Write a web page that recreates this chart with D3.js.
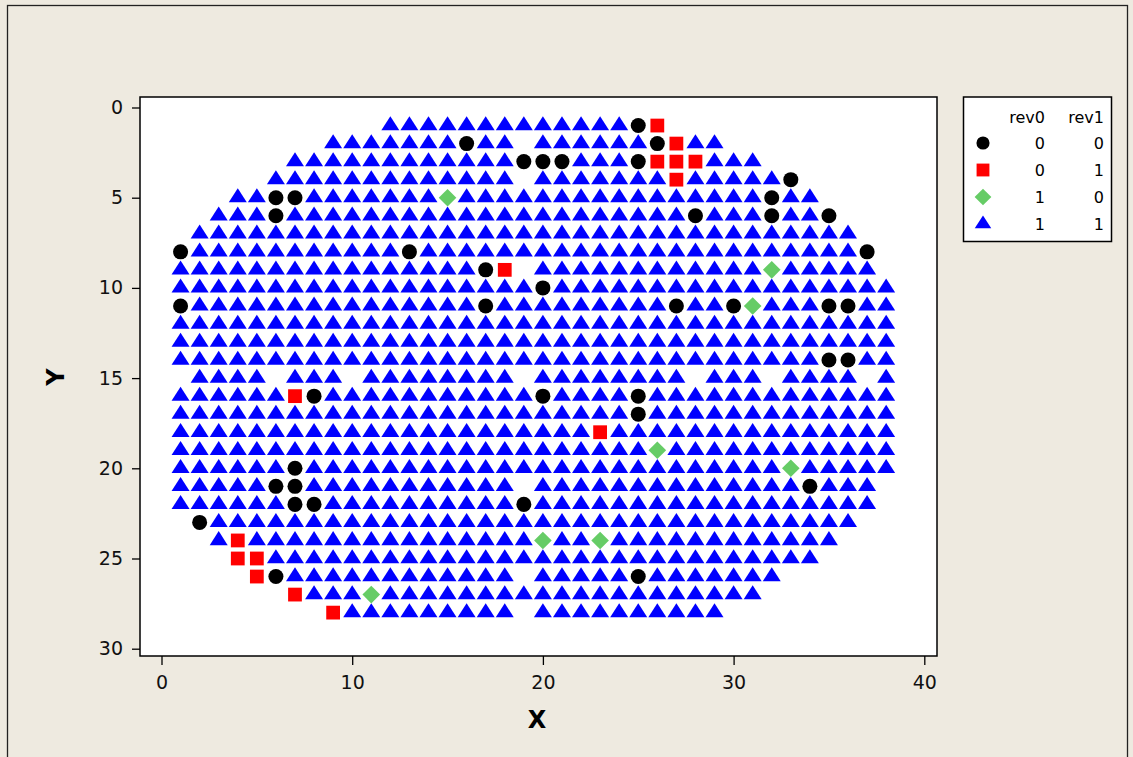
<!DOCTYPE html>
<html>
<head>
<meta charset="utf-8">
<script src="https://cdn.jsdelivr.net/npm/d3@7"></script>
<style>
  body { margin: 0; background: #eeeae0; }
  svg { display: block; font-family: "DejaVu Sans", sans-serif; }
</style>
</head>
<body>
<svg id="chart" width="1133" height="757"></svg>
<script>
// wafer rows (y) with the first and last die column (x)
const rowY     = [1, 2, 3, 4, 5, 6, 7, 8, 9, 10, 11, 12, 13, 14, 15, 16, 17, 18, 19, 20, 21, 22, 23, 24, 25, 26, 27, 28];
const rowStart = [12, 9, 7, 6, 4, 3, 2, 1, 1, 1, 1, 1, 1, 1, 2, 1, 1, 1, 1, 1, 1, 1, 2, 3, 4, 5, 7, 9];
const rowEnd   = [26, 29, 31, 33, 34, 35, 36, 37, 37, 38, 38, 38, 38, 38, 38, 38, 38, 38, 38, 38, 37, 37, 36, 35, 34, 32, 31, 29];

// empty sites (no die drawn)
const gaps = [[19, 2], [19, 4], [19, 9], [6, 15], [10, 15], [19, 15], [28, 15], [32, 15], [37, 15], [19, 21], [19, 26], [19, 28]];

// rev0 = 0, rev1 = 0
const circles = [[25, 1], [16, 2], [26, 2], [19, 3], [20, 3], [21, 3], [25, 3], [33, 4], [6, 5], [7, 5], [32, 5],
  [6, 6], [28, 6], [32, 6], [35, 6], [1, 8], [13, 8], [37, 8], [17, 9], [20, 10], [1, 11], [17, 11], [27, 11],
  [30, 11], [35, 11], [36, 11], [35, 14], [36, 14], [8, 16], [20, 16], [25, 16], [25, 17], [7, 20], [6, 21],
  [7, 21], [34, 21], [7, 22], [8, 22], [19, 22], [2, 23], [6, 26], [25, 26]];
// rev0 = 0, rev1 = 1
const squares = [[26, 1], [27, 2], [26, 3], [27, 3], [28, 3], [27, 4], [18, 9], [7, 16], [23, 18], [4, 24], [4, 25],
  [5, 25], [5, 26], [7, 27], [9, 28]];
// rev0 = 1, rev1 = 0
const diamonds = [[15, 5], [32, 9], [31, 11], [26, 19], [33, 20], [20, 24], [23, 24], [11, 27]];

// legend table
const legendKeys = ["circle", "square", "diamond", "triangle"];
const legendRev0 = [0, 0, 1, 1];
const legendRev1 = [0, 1, 0, 1];

const xTicks = [0, 10, 20, 30, 40];
const yTicks = [0, 5, 10, 15, 20, 25, 30];

const colors = { circle: "#000000", square: "#ff0000", diamond: "#66cc66", triangle: "#0000ff" };

const svg = d3.select("#chart");

// outer graph frame
svg.append("rect")
  .attr("x", 7.5).attr("y", 5.5)
  .attr("width", 1120).attr("height", 770)
  .attr("fill", "#eeeae0")
  .attr("stroke", "#222").attr("stroke-width", 1.3);

const x = d3.scaleLinear().domain([0, 40]).range([161.5, 924.3]);
const y = d3.scaleLinear().domain([0, 30]).range([107.5, 648.7]);

const frame = { left: 140, right: 937, top: 97, bottom: 656 };

svg.append("rect")
  .attr("x", frame.left).attr("y", frame.top)
  .attr("width", frame.right - frame.left).attr("height", frame.bottom - frame.top)
  .attr("fill", "#fff")
  .attr("stroke", "#000").attr("stroke-width", 1.5);

// axes
const xAxis = svg.append("g")
  .attr("transform", `translate(0,${frame.bottom})`)
  .call(d3.axisBottom(x).tickValues(xTicks).tickSize(9).tickPadding(11));
const yAxis = svg.append("g")
  .attr("transform", `translate(${frame.left},0)`)
  .call(d3.axisLeft(y).tickValues(yTicks).tickSize(8).tickPadding(9));

[xAxis, yAxis].forEach(g => {
  g.select(".domain").remove();
  g.selectAll(".tick line").attr("stroke", "#000").attr("stroke-width", 1.3);
  g.selectAll(".tick text")
    .attr("fill", "#111")
    .style("font-family", "DejaVu Sans, sans-serif")
    .style("font-size", "19px");
});

svg.append("text")
  .attr("x", 537).attr("y", 728)
  .attr("text-anchor", "middle")
  .style("font-size", "24px").style("font-weight", "bold")
  .text("X");

svg.append("text")
  .attr("transform", "translate(64,377) rotate(-90)")
  .attr("text-anchor", "middle")
  .style("font-size", "24px").style("font-weight", "bold")
  .text("Y");

// build point sets
const key = p => p[0] + "," + p[1];
const taken = new Set([...gaps, ...circles, ...squares, ...diamonds].map(key));
const triangles = [];
rowY.forEach((ry, i) => {
  for (let cx = rowStart[i]; cx <= rowEnd[i]; cx++) {
    if (!taken.has(cx + "," + ry)) triangles.push([cx, ry]);
  }
});

const symbolPath = {
  circle: d3.symbol().type(d3.symbolCircle).size(177)(),
  square: d3.symbol().type(d3.symbolSquare).size(190)(),
  diamond: d3.symbol().type(d3.symbolSquare).size(155)(),
  triangle: d3.symbol().type(d3.symbolTriangle).size(140)()
};
const symbolTransform = {
  circle: "",
  square: "",
  diamond: " rotate(45)",
  triangle: " scale(1,0.9)"
};

function drawPoints(data, kind) {
  svg.append("g")
    .selectAll("path")
    .data(data)
    .join("path")
    .attr("d", symbolPath[kind])
    .attr("transform", d => `translate(${x(d[0])},${y(d[1])})` + symbolTransform[kind])
    .attr("fill", colors[kind]);
}

drawPoints(triangles, "triangle");
drawPoints(circles, "circle");
drawPoints(squares, "square");
drawPoints(diamonds, "diamond");

// legend
const legend = svg.append("g");
legend.append("rect")
  .attr("x", 963.5).attr("y", 97)
  .attr("width", 148).attr("height", 144.5)
  .attr("fill", "#fff")
  .attr("stroke", "#000").attr("stroke-width", 1.5);

const col0 = 1045, col1 = 1104;
legend.append("text").attr("x", col0).attr("y", 123)
  .attr("text-anchor", "end").style("font-size", "16px").text("rev0");
legend.append("text").attr("x", col1).attr("y", 123)
  .attr("text-anchor", "end").style("font-size", "16px").text("rev1");

const legendSize = { circle: 135, square: 165, diamond: 140, triangle: 118 };
const rowScale = d3.scalePoint().domain(legendKeys).range([143, 224]);

legendKeys.forEach((k, i) => {
  const ly = rowScale(k);
  legend.append("path")
    .attr("d", d3.symbol().type(k === "circle" ? d3.symbolCircle : k === "triangle" ? d3.symbolTriangle : d3.symbolSquare).size(legendSize[k])())
    .attr("transform", `translate(983,${ly})` + symbolTransform[k])
    .attr("fill", colors[k]);
  legend.append("text").attr("x", col0).attr("y", ly + 6)
    .attr("text-anchor", "end").style("font-size", "16px").text(legendRev0[i]);
  legend.append("text").attr("x", col1).attr("y", ly + 6)
    .attr("text-anchor", "end").style("font-size", "16px").text(legendRev1[i]);
});
</script>
</body>
</html>
